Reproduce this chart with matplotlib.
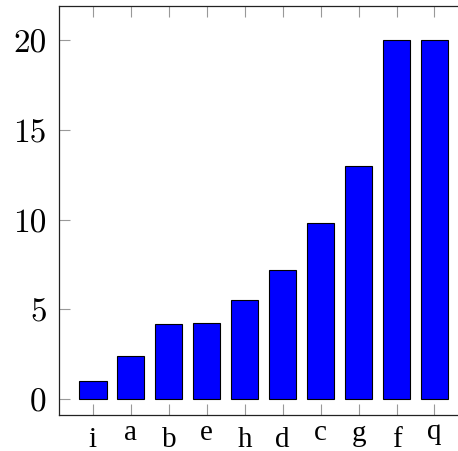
import numpy as np
import matplotlib.pyplot as plt
from matplotlib.transforms import ScaledTranslation

# Bar data, sorted ascending
categories = ['i', 'a', 'b', 'e', 'h', 'd', 'c', 'g', 'f', 'q']
values = [1.0, 2.4, 4.2, 4.25, 5.5, 7.2, 9.8, 13.0, 20.0, 20.0]
y_ticks = [0, 5, 10, 15, 20]

# how far below the axis each letter's baseline sits (pixels)
label_drop = [30.5, 24, 31, 23.5, 31, 31, 23.5, 24.5, 31, 23]

fig = plt.figure(figsize=(4.58, 4.52), dpi=100)
ax = fig.add_axes([0.1282, 0.0796, 0.895, 0.906])

x = np.arange(len(categories))
ax.bar(x, values, width=0.72, color='#0000ff', edgecolor='black', linewidth=0.8)

ax.set_xlim(-0.9, 9.9)
ax.set_ylim(-0.87, 21.9)

# pgfplots-like ticks on all sides, pointing in
ax.set_xticks(x)
ax.set_xticklabels([])
ax.set_yticks(y_ticks)
ax.set_yticklabels([str(t) for t in y_ticks], fontfamily='cmr10', fontsize=24)
ax.tick_params(direction='in', length=8, width=0.8, color='#999999',
               top=True, right=True, pad=8.6)
ax.tick_params(axis='x', pad=0)

for s in ax.spines.values():
    s.set_linewidth(0.9)
    s.set_color('#222222')

# x labels drawn by hand so each letter can sit at its own height
for xi, lab, drop in zip(x, categories, label_drop):
    tr = ax.get_xaxis_transform() + ScaledTranslation(0, -drop / 100, fig.dpi_scale_trans)
    ax.text(xi, 0, lab, transform=tr, ha='center', va='baseline',
            fontfamily='Liberation Serif', fontsize=21, clip_on=False)

fig.savefig('out.png', dpi=100)
